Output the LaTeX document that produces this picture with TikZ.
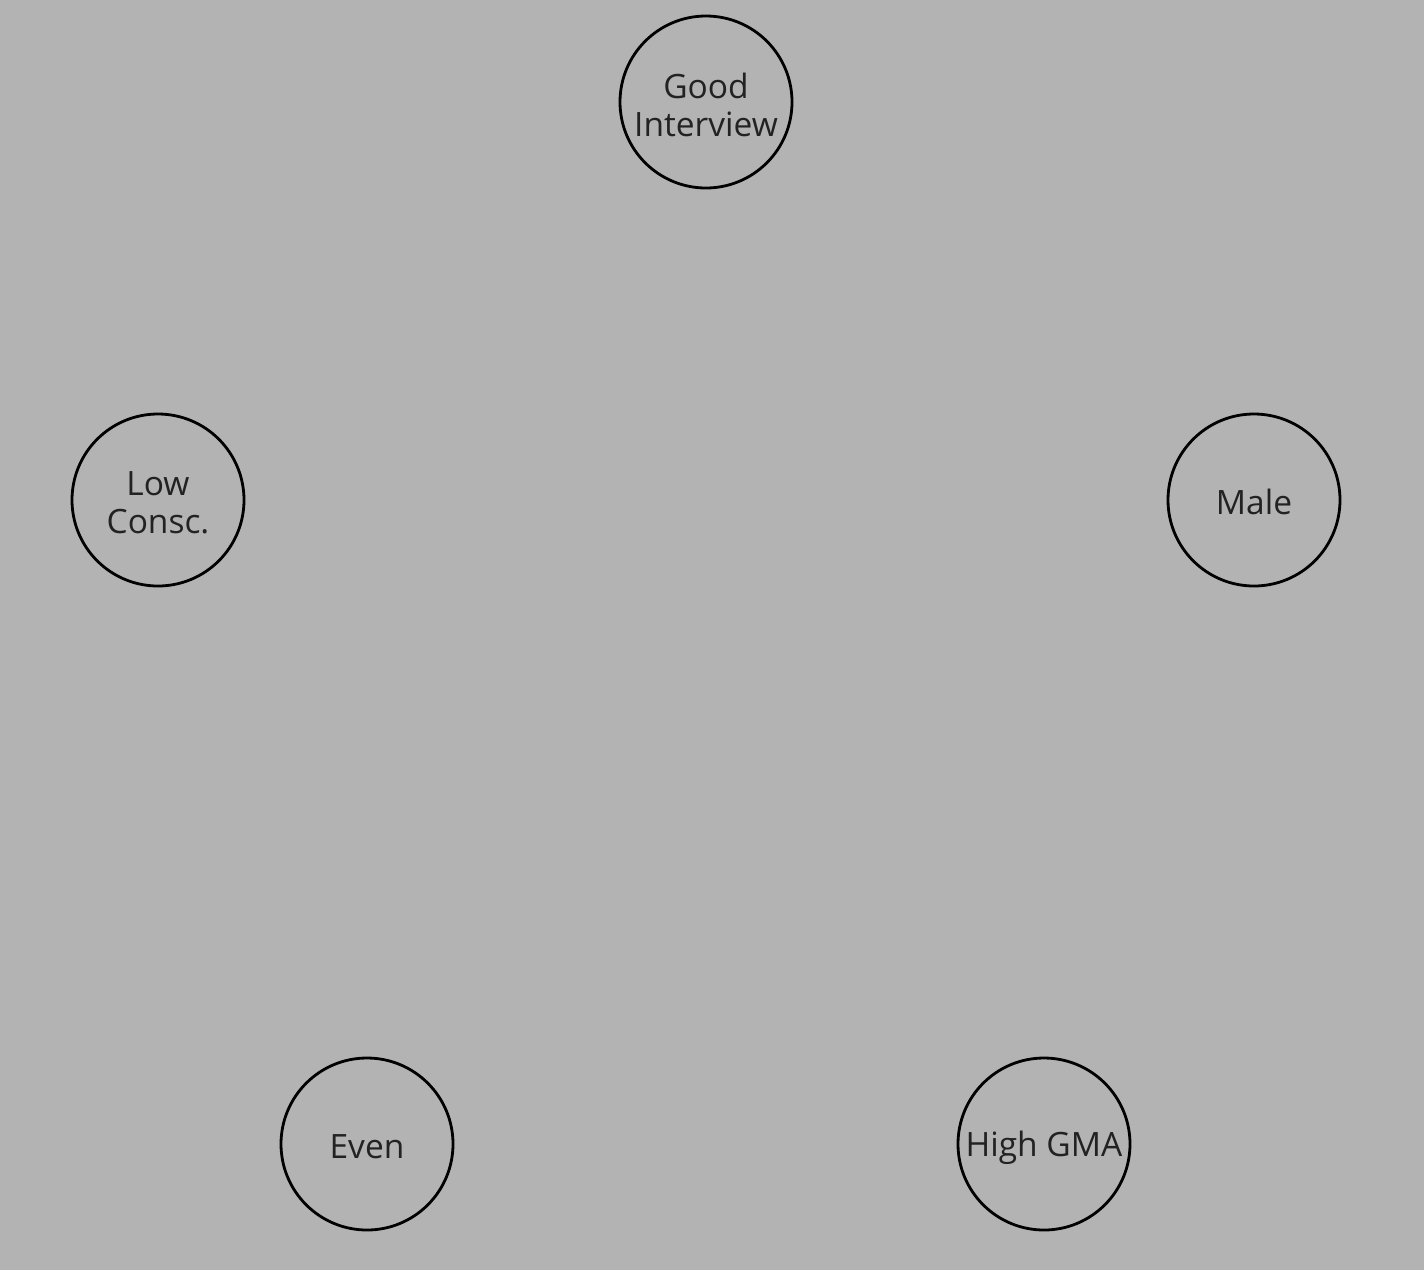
\documentclass[tikz,border=0pt]{standalone}
\usepackage{fontspec}
\setmainfont{Open Sans}
\definecolor{bg}{HTML}{B3B3B3}
\definecolor{txt}{HTML}{222222}
\begin{document}
\begin{tikzpicture}[x=1pt,y=-1pt,
  vnode/.style={circle,draw=black,line width=2.8pt,minimum size=172pt,inner sep=0pt},
  vtext/.style={text=txt,font=\fontsize{33.5}{38}\selectfont,align=center,inner sep=0pt}]
\fill[bg] (0,0) rectangle (1424,1270);
\useasboundingbox (0,0) rectangle (1424,1270);
\node[vnode] (gi) at (706,102) {};
\node[vnode] (lc) at (158,500) {};
\node[vnode] (m) at (1254,500) {};
\node[vnode] (e) at (367,1144) {};
\node[vnode] (hg) at (1044,1144) {};
\node[vtext] (giT) at ([yshift=-3pt]gi.center) {Good\\Interview};
\node[vtext] (lcT) at ([yshift=-3pt]lc.center) {Low\\Consc.};
\node[vtext] (mT) at ([yshift=-2pt]m.center) {Male};
\node[vtext] (eT) at ([yshift=-3pt]e.center) {Even};
\node[vtext] (hgT) at ([yshift=-4pt]hg.center) {High GMA};
\end{tikzpicture}
\end{document}
